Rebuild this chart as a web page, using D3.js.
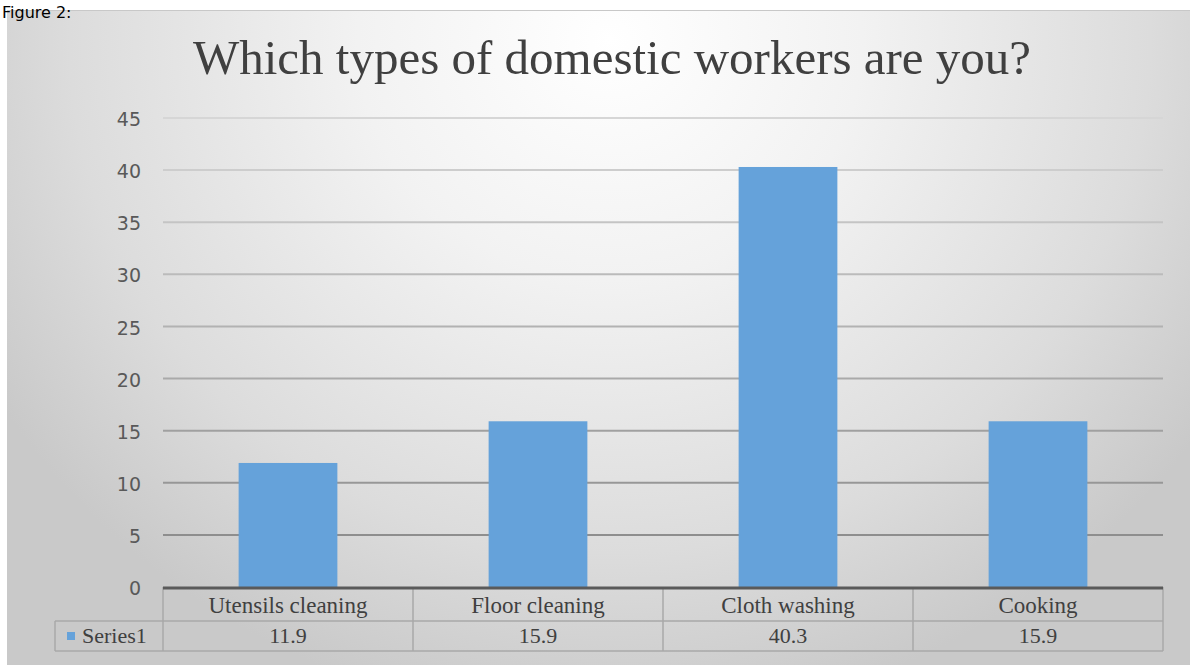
<!DOCTYPE html>
<html>
<head>
<meta charset="utf-8">
<script src="https://cdn.jsdelivr.net/npm/d3@7"></script>
<style>
  body { margin: 0; background: #fff; overflow: hidden; }
  svg { display: block; }
</style>
</head>
<body>
<div id="chart"></div>
<script>
var categories = ["Utensils cleaning", "Floor cleaning", "Cloth washing", "Cooking"];
var values = [11.9, 15.9, 40.3, 15.9];
var valueLabels = ["11.9", "15.9", "40.3", "15.9"];
var yTicks = [0, 5, 10, 15, 20, 25, 30, 35, 40, 45];
var seriesName = "Series1";
var title = "Which types of domestic workers are you?";

var width = 1190;
var height = 665;

margin = { top: 118, right: 27, bottom: 78, left: 163 };

var svg = d3.select("#chart")
  .append("svg")
  .attr("width", width)
  .attr("height", height);

var defs = svg.append("defs");
var grad = defs.append("radialGradient")
  .attr("id", "bg")
  .attr("gradientUnits", "userSpaceOnUse")
  .attr("cx", 610).attr("cy", 40)
  .attr("r", 720)
  .attr("gradientTransform", "translate(610,40) scale(1,0.95) translate(-610,-40)");
grad.append("stop").attr("offset", "0%").attr("stop-color", "#ffffff");
grad.append("stop").attr("offset", "35%").attr("stop-color", "#f2f2f2");
grad.append("stop").attr("offset", "75%").attr("stop-color", "#dcdcdc");
grad.append("stop").attr("offset", "100%").attr("stop-color", "#c9c9c9");

// panel
svg.append("rect")
  .attr("x", 7).attr("y", 10)
  .attr("width", width - 7).attr("height", height - 10)
  .attr("fill", "url(#bg)");
svg.append("line")
  .attr("x1", 7).attr("x2", width)
  .attr("y1", 10.5).attr("y2", 10.5)
  .attr("stroke", "#c8c8c8").attr("stroke-width", 1);

// caption above the panel
svg.append("text")
  .attr("x", 2).attr("y", 18)
  .attr("font-family", "DejaVu Sans, Verdana, sans-serif")
  .attr("font-size", 16)
  .attr("fill", "#000")
  .text("Figure 2:");

svg.append("text")
  .attr("x", 612).attr("y", 74)
  .attr("text-anchor", "middle")
  .attr("font-family", "Liberation Serif, Times New Roman, serif")
  .attr("font-size", 49)
  .attr("fill", "#404040")
  .text(title);

var plotW = width - margin.left - margin.right;
var y0 = 587;

var y = d3.scaleLinear()
  .domain([0, 45])
  .range([y0, margin.top]);

var x = d3.scaleBand()
  .domain(categories)
  .range([margin.left, margin.left + plotW])
  .paddingInner(0.605)
  .paddingOuter(0.3025);

var xCell = d3.scaleBand()
  .domain(categories)
  .range([margin.left, margin.left + plotW]);

var gridColor = d3.scaleLinear()
  .domain([45, 0])
  .range(["#d6d6d6", "#858585"]);

// gridlines
svg.append("g")
  .selectAll("line")
  .data(yTicks.filter(d => d > 0))
  .join("line")
  .attr("x1", margin.left)
  .attr("x2", margin.left + plotW)
  .attr("y1", d => y(d))
  .attr("y2", d => y(d))
  .attr("stroke", d => gridColor(d))
  .attr("stroke-width", 2);

// y axis labels
var yAxis = d3.axisLeft(y).tickValues(yTicks).tickSize(0).tickPadding(22);
var yg = svg.append("g")
  .attr("transform", `translate(${margin.left},0)`)
  .call(yAxis);
yg.select(".domain").remove();
yg.selectAll("text")
  .attr("font-family", "DejaVu Sans, Verdana, sans-serif")
  .attr("font-size", 19)
  .attr("fill", "#595959")
  .attr("dy", "0.4em");

// bars
svg.append("g")
  .selectAll("rect")
  .data(values)
  .join("rect")
  .attr("x", (d, i) => x(categories[i]))
  .attr("y", d => y(d))
  .attr("width", x.bandwidth())
  .attr("height", d => y0 - y(d))
  .attr("fill", "#65a2da");

// data table
var row1 = 621, row2 = 651;
var tg = svg.append("g")
  .attr("stroke", "#a8a8a8")
  .attr("stroke-width", 1.5);
tg.append("line")
  .attr("x1", 55).attr("x2", margin.left + plotW)
  .attr("y1", row1).attr("y2", row1);
tg.append("line")
  .attr("x1", 55).attr("x2", margin.left + plotW)
  .attr("y1", row2).attr("y2", row2);
tg.append("line")
  .attr("x1", 55).attr("x2", 55)
  .attr("y1", row1).attr("y2", row2);
tg.selectAll("line.v")
  .data(categories.concat(["end"]))
  .join("line")
  .attr("class", "v")
  .attr("x1", (d, i) => margin.left + i * xCell.step())
  .attr("x2", (d, i) => margin.left + i * xCell.step())
  .attr("y1", y0).attr("y2", row2);

// axis line
svg.append("line")
  .attr("x1", margin.left).attr("x2", margin.left + plotW)
  .attr("y1", y0 + 1).attr("y2", y0 + 1)
  .attr("stroke", "#5a5a5a")
  .attr("stroke-width", 3);

svg.append("g")
  .selectAll("text")
  .data(categories)
  .join("text")
  .attr("x", d => xCell(d) + xCell.bandwidth() / 2)
  .attr("y", 613)
  .attr("text-anchor", "middle")
  .attr("font-family", "Liberation Serif, Times New Roman, serif")
  .attr("font-size", 23)
  .attr("fill", "#404040")
  .text(d => d);

svg.append("g")
  .selectAll("text")
  .data(valueLabels)
  .join("text")
  .attr("x", (d, i) => xCell(categories[i]) + xCell.bandwidth() / 2)
  .attr("y", 643)
  .attr("text-anchor", "middle")
  .attr("font-family", "Liberation Serif, Times New Roman, serif")
  .attr("font-size", 22)
  .attr("fill", "#404040")
  .text(d => d);

// legend key
svg.append("rect")
  .attr("x", 67).attr("y", 632)
  .attr("width", 8).attr("height", 8)
  .attr("fill", "#65a2da");
svg.append("text")
  .attr("x", 82).attr("y", 643)
  .attr("font-family", "Liberation Serif, Times New Roman, serif")
  .attr("font-size", 22)
  .attr("fill", "#404040")
  .text(seriesName);
</script>
</body>
</html>
